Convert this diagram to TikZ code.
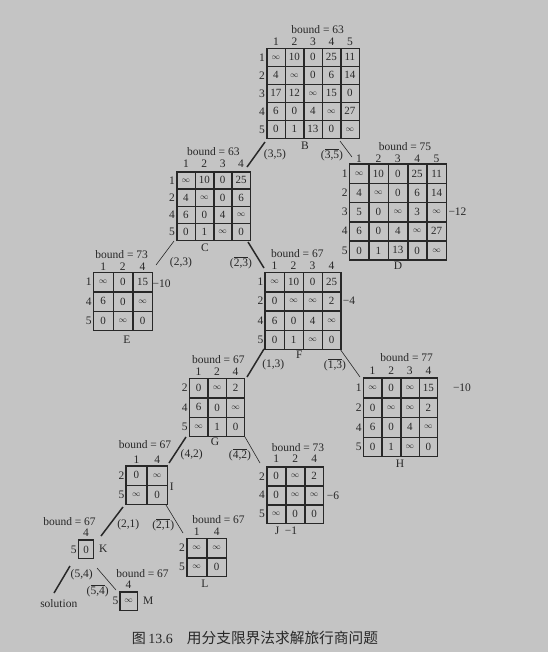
\documentclass[tikz,border=0pt]{standalone}
\usepackage{fontspec}
\setmainfont{Liberation Serif}
\newfontfamily\cjk{Noto Sans CJK SC}
\usetikzlibrary{matrix}
\definecolor{bg}{RGB}{196,196,196}
\definecolor{ink}{RGB}{40,40,40}
\newcommand\oo{{\fontsize{8}{8}\selectfont$\infty$}}
\newcommand\ov[1]{$\overline{\mbox{#1}}$}
\newcommand\collabels[3]{\foreach \j/\t in {#3} {\node[lbl] (#1c\j) at (#1-1-\j |- 0,#2) {\t};}}
\newcommand\rowlabels[2]{\foreach \i/\t in {#2} {\node[lbl,anchor=east] (#1r\i) at ([xshift=-1.8pt]#1-\i-1.west) {\t};}}
\tikzset{
 lbl/.style={font=\fontsize{11.5}{12}\selectfont, text=ink, inner sep=0pt},
 tspmat/.style 2 args={matrix of nodes, ampersand replacement=\&, anchor=north west,
   draw=ink, line width=1.1pt, inner sep=0pt, outer sep=0pt, column sep=0pt, row sep=0pt,
   nodes={draw=ink, line width=0.5pt, minimum width=#1pt, minimum height=#2pt,
     inner sep=0pt, outer sep=0pt, anchor=center, font=\fontsize{11}{12}\selectfont, text=ink}},
 thickedge/.style={draw=ink, line width=1.5pt},
 thinedge/.style={draw=ink, line width=0.6pt},
}
\begin{document}
\begin{tikzpicture}[x=1pt,y=-1pt]
\useasboundingbox (0,0) rectangle (554,670);
\fill[white] (0,0) rectangle (554,670);
\fill[bg] (0,0) rectangle (548,652);

% ---------- B ----------
\matrix[tspmat={18}{17.5}] (B) at (266.7,48.3) {
 \oo \& 10 \& 0 \& 25 \& 11 \\
 4 \& \oo \& 0 \& 6 \& 14 \\
 17 \& 12 \& \oo \& 15 \& 0 \\
 6 \& 0 \& 4 \& \oo \& 27 \\
 0 \& 1 \& 13 \& 0 \& \oo \\
};
\collabels{B}{41.7}{1/1,2/2,3/3,4/4,5/5}
\rowlabels{B}{1/1,2/2,3/3,4/4,5/5}
\node[lbl] (Bb) at (317.7,30) {bound = 63};
\node[lbl] (Bn) at (305,146) {B};

% ---------- C ----------
\matrix[tspmat={17.9}{16.7}] (C) at (176.7,171.7) {
 \oo \& 10 \& 0 \& 25 \\
 4 \& \oo \& 0 \& 6 \\
 6 \& 0 \& 4 \& \oo \\
 0 \& 1 \& \oo \& 0 \\
};
\collabels{C}{163.5}{1/1,2/2,3/3,4/4}
\rowlabels{C}{1/1,2/2,3/4,4/5}
\node[lbl] (Cb) at (213.3,151.5) {bound = 63};
\node[lbl] (Cn) at (205,248) {C};

% ---------- D ----------
\matrix[tspmat={18.9}{18.7}] (D) at (349.3,164) {
 \oo \& 10 \& 0 \& 25 \& 11 \\
 4 \& \oo \& 0 \& 6 \& 14 \\
 5 \& 0 \& \oo \& 3 \& \oo \\
 6 \& 0 \& 4 \& \oo \& 27 \\
 0 \& 1 \& 13 \& 0 \& \oo \\
};
\collabels{D}{158.8}{1/1,2/2,3/3,4/4,5/5}
\rowlabels{D}{1/1,2/2,3/3,4/4,5/5}
\node[lbl] (Db) at (405,147) {bound = 75};
\node[lbl] (Dn) at (398,266) {D};
\node[lbl] (Dr) at (457.5,212) {−12};

% ---------- E ----------
\matrix[tspmat={19.2}{18.9}] (E) at (93.3,272.3) {
 \oo \& 0 \& 15 \\
 6 \& 0 \& \oo \\
 0 \& \oo \& 0 \\
};
\collabels{E}{266.7}{1/1,2/2,3/4}
\rowlabels{E}{1/1,2/4,3/5}
\node[lbl] (Eb) at (121.7,254.5) {bound = 73};
\node[lbl] (En) at (127,340) {E};
\node[lbl] (Er) at (161.7,283.3) {−10};

% ---------- F ----------
\matrix[tspmat={18.5}{18.75}] (F) at (265,272.3) {
 \oo \& 10 \& 0 \& 25 \\
 0 \& \oo \& \oo \& 2 \\
 6 \& 0 \& 4 \& \oo \\
 0 \& 1 \& \oo \& 0 \\
};
\collabels{F}{265.8}{1/1,2/2,3/3,4/4}
\rowlabels{F}{1/1,2/2,3/4,4/5}
\node[lbl] (Fb) at (297.3,254) {bound = 67};
\node[lbl] (Fn) at (299.3,355) {F};
\node[lbl] (Fr) at (349,300.5) {−4};

% ---------- G ----------
\matrix[tspmat={18}{18.9}] (G) at (189.3,378.3) {
 0 \& \oo \& 2 \\
 6 \& 0 \& \oo \\
 \oo \& 1 \& 0 \\
};
\collabels{G}{371.7}{1/1,2/2,3/4}
\rowlabels{G}{1/2,2/4,3/5}
\node[lbl] (Gb) at (218.3,359.5) {bound = 67};
\node[lbl] (Gn) at (215,442) {G};

% ---------- H ----------
\matrix[tspmat={18.1}{19.2}] (H) at (363.3,378) {
 \oo \& 0 \& \oo \& 15 \\
 0 \& \oo \& \oo \& 2 \\
 6 \& 0 \& 4 \& \oo \\
 0 \& 1 \& \oo \& 0 \\
};
\collabels{H}{370.7}{1/1,2/2,3/3,4/4}
\rowlabels{H}{1/1,2/2,3/4,4/5}
\node[lbl] (Hb) at (406.7,358) {bound = 77};
\node[lbl] (Hn) at (400,463.3) {H};
\node[lbl] (Hr) at (462,387.5) {−10};

% ---------- I ----------
\matrix[tspmat={20.3}{18.8}] (I) at (126,465.7) {
 0 \& \oo \\
 \oo \& 0 \\
};
\collabels{I}{460}{1/1,2/4}
\rowlabels{I}{1/2,2/5}
\node[lbl] (Ib) at (145,445) {bound = 67};
\node[lbl] (In) at (171.7,486.7) {I};

% ---------- J ----------
\matrix[tspmat={18.5}{18.5}] (J) at (266.7,466.7) {
 0 \& \oo \& 2 \\
 0 \& \oo \& \oo \\
 \oo \& 0 \& 0 \\
};
\collabels{J}{459}{1/1,2/2,3/4}
\rowlabels{J}{1/2,2/4,3/5}
\node[lbl] (Jb) at (298,447.5) {bound = 73};
\node[lbl] (Jn) at (286,531) {J\ \ −1};
\node[lbl] (Jr) at (333,496) {−6};

% ---------- K ----------
\matrix[tspmat={15}{18.3}] (K) at (78.3,540) {
 0 \\
};
\collabels{K}{533}{1/4}
\rowlabels{K}{1/5}
\node[lbl] (Kb) at (69.5,522) {bound = 67};
\node[lbl] (Kn) at (103.3,549) {K};

% ---------- L ----------
\matrix[tspmat={19.5}{18.8}] (L) at (186.7,538.3) {
 \oo \& \oo \\
 \oo \& 0 \\
};
\collabels{L}{531.7}{1/1,2/4}
\rowlabels{L}{1/2,2/5}
\node[lbl] (Lb) at (218.5,519.5) {bound = 67};
\node[lbl] (Ln) at (205,584) {L};

% ---------- M ----------
\matrix[tspmat={16.7}{18.3}] (M) at (120,591.7) {
 \oo \\
};
\collabels{M}{585}{1/4}
\rowlabels{M}{1/5}
\node[lbl] (Mb) at (142.5,573.5) {bound = 67};
\node[lbl] (Mn) at (148.3,601) {M};

\node[lbl] (sol) at (58.8,604) {solution};

% ---------- edges ----------
\coordinate (bc1) at (265,142); \coordinate (bc2) at (247,167);
\coordinate (bd1) at (340,141); \coordinate (bd2) at (352,157);
\coordinate (ce1) at (174,241); \coordinate (ce2) at (156,265);
\coordinate (cf1) at (248,242); \coordinate (cf2) at (264,268);
\coordinate (fg1) at (264,349); \coordinate (fg2) at (247,377);
\coordinate (fh1) at (340,349); \coordinate (fh2) at (360,377);
\coordinate (gi1) at (186,437); \coordinate (gi2) at (169,463);
\coordinate (gj1) at (245,437); \coordinate (gj2) at (260,463);
\coordinate (ik1) at (123,507); \coordinate (ik2) at (101,536);
\coordinate (il1) at (166,505); \coordinate (il2) at (183,533);
\coordinate (ks1) at (70,566);  \coordinate (ks2) at (54,593);
\coordinate (km1) at (97,568);  \coordinate (km2) at (116,590);

\draw[thickedge] (bc1) -- (bc2);
\draw[thinedge]  (bd1) -- (bd2);
\draw[thinedge]  (ce1) -- (ce2);
\draw[thickedge] (cf1) -- (cf2);
\draw[thickedge] (fg1) -- (fg2);
\draw[thinedge]  (fh1) -- (fh2);
\draw[thickedge] (gi1) -- (gi2);
\draw[thinedge]  (gj1) -- (gj2);
\draw[thickedge] (ik1) -- (ik2);
\draw[thinedge]  (il1) -- (il2);
\draw[thickedge] (ks1) -- (ks2);
\draw[thinedge]  (km1) -- (km2);

\node[lbl] (e35)  at (275,155) {(3,5)};
\node[lbl] (e35b) at (332,155) {(\ov{3,5})};
\node[lbl] (e23)  at (181,263) {(2,3)};
\node[lbl] (e23b) at (241,263) {(\ov{2,3})};
\node[lbl] (e13)  at (273.3,365) {(1,3)};
\node[lbl] (e13b) at (335,365) {(\ov{1,3})};
\node[lbl] (e42)  at (191.7,455) {(4,2)};
\node[lbl] (e42b) at (240,455) {(\ov{4,2})};
\node[lbl] (e21)  at (128.3,525) {(2,1)};
\node[lbl] (e21b) at (163.3,525) {(\ov{2,1})};
\node[lbl] (e54)  at (81.7,575) {(5,4)};
\node[lbl] (e54b) at (97.7,590.7) {(\ov{5,4})};

% ---------- caption ----------
\node[text=ink, inner sep=0pt, anchor=east, font=\fontsize{14}{16}\selectfont] (cap1) at (173,638)
  {{\cjk 图}\,13.6};
\node[text=ink, inner sep=0pt, anchor=west, font=\fontsize{14.7}{16}\selectfont] (cap2) at (186.7,638)
  {\cjk 用分支限界法求解旅行商问题};
\end{tikzpicture}
\end{document}
